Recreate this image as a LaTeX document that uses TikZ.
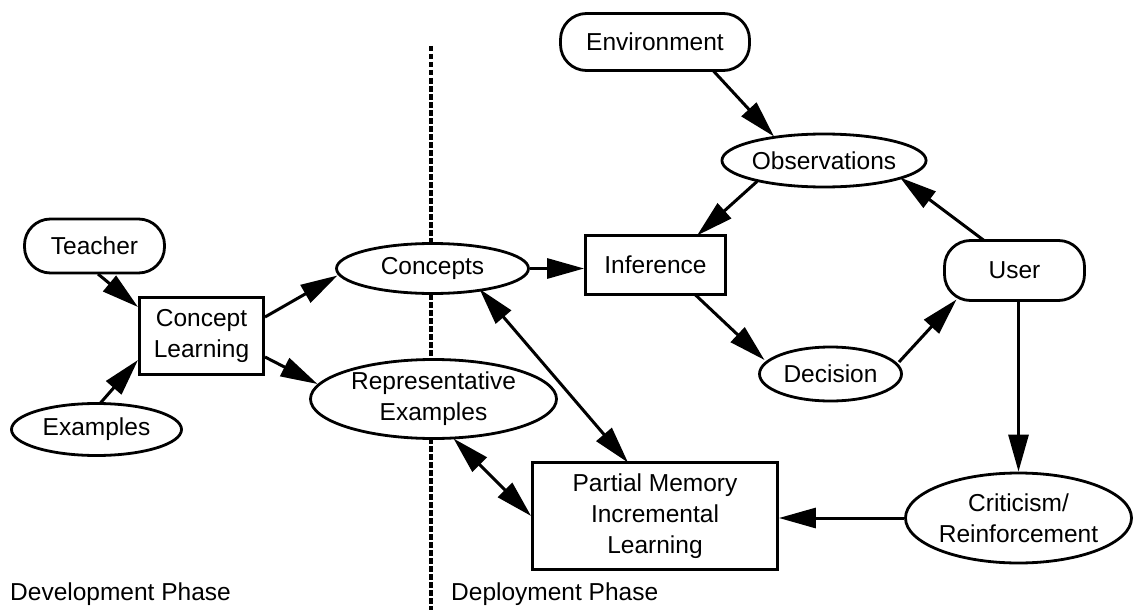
\documentclass[tikz,border=0pt]{standalone}
\usepackage{fontspec}
\setmainfont{Liberation Sans}
\usetikzlibrary{arrows.meta,shapes.geometric,calc}
\newcommand{\fs}{\fontsize{24.5}{31}\selectfont}
\tikzset{
  base/.style={draw, line width=2.8pt, fill=white, inner sep=0pt, align=center, font=\fs},
  rbox/.style={base, rounded corners=26pt},
  sbox/.style={base},
  oval/.style={base, ellipse},
  tip/.style={Triangle[length=37pt,width=20pt]},
  arr/.style={line width=3pt, -{Triangle[length=37pt,width=20pt]}},
  darr/.style={line width=3pt, {Triangle[length=37pt,width=20pt]}-{Triangle[length=37pt,width=20pt]}},
  phase/.style={font=\fs, inner sep=0pt, anchor=base west},
  divider/.style={line width=4.3pt, dash pattern=on 5.5pt off 2.5pt},
}
\begin{document}
\begin{tikzpicture}[x=1pt,y=-1pt]
\useasboundingbox (0,0) rectangle (1135,610);
% divider
\coordinate (dtop) at (431,46);
\coordinate (dbot) at (431,610);
\draw[divider] (dtop) -- (dbot);

% nodes
\node[rbox, minimum width=140pt, minimum height=54pt] (teacher) at (94.5,246) {Teacher};
\node[sbox, minimum width=124pt, minimum height=77pt] (cl) at (201.5,336) {Concept\\Learning};
\node[oval, minimum width=170pt, minimum height=52pt] (examples) at (96.5,429.5) {Examples};
\node[oval, minimum width=192pt, minimum height=50pt] (concepts) at (432.5,268.5) {Concepts};
\node[oval, minimum width=246pt, minimum height=79pt] (repex) at (433.5,399) {Representative\\Examples};
\node[sbox, minimum width=140pt, minimum height=59pt] (inference) at (655.5,265) {Inference};
\node[sbox, minimum width=245pt, minimum height=107pt] (pm) at (655,516) {Partial Memory\\Incremental\\Learning};
\node[rbox, minimum width=189pt, minimum height=57pt] (env) at (655,42) {Environment};
\node[oval, minimum width=193pt, minimum height=53pt] (obs) at (824,160.5) {Observations};
\node[rbox, minimum width=140pt, minimum height=60pt] (user) at (1014.5,270.5) {User};
\node[oval, minimum width=142pt, minimum height=54pt] (decision) at (830.5,374) {Decision};
\node[oval, minimum width=226pt, minimum height=90pt] (crit) at (1018.5,518) {Criticism/\\Reinforcement};

% phase labels
\node[phase] (dev) at (10,600) {Development Phase};
\node[phase] (dep) at (451,600) {Deployment Phase};

% connectors
\draw[arr] ($(teacher)+(3.5,28)$) -- ($(cl)+(-63.5,-29)$);
\draw[arr] ($(examples)+(3.5,-26)$) -- ($(cl)+(-63.5,24)$);
\draw[arr] ($(cl)+(63.5,-19)$) -- ($(concepts)+(-95,7)$);
\draw[arr] ($(cl)+(63.5,21)$) -- ($(repex)+(-116,-15)$);
\draw[arr] (concepts.east) -- (concepts.east -| inference.west);
\draw[darr] ($(concepts)+(47,20.5)$) -- ($(pm)+(-27,-53.5)$);
\draw[darr] ($(repex)+(20,39.5)$) -- (pm.west);
\draw[arr] ($(env)+(58,28.5)$) -- ($(obs)+(-50,-24)$);
\draw[arr] ($(obs)+(-67,21)$) -- ($(inference)+(41.5,-29.5)$);
\draw[arr] ($(user)+(-30.5,-30)$) -- ($(obs)+(76,17)$);
\draw[arr] ($(inference)+(39.5,29.5)$) -- ($(decision)+(-66,-14)$);
\draw[arr] ($(decision)+(68.5,-12)$) -- ($(user)+(-58,29)$);
\draw[arr] (crit.north |- user.south) -- (crit.north);
\draw[arr] (crit.west) -- (crit.west -| pm.east);
\end{tikzpicture}
\end{document}
